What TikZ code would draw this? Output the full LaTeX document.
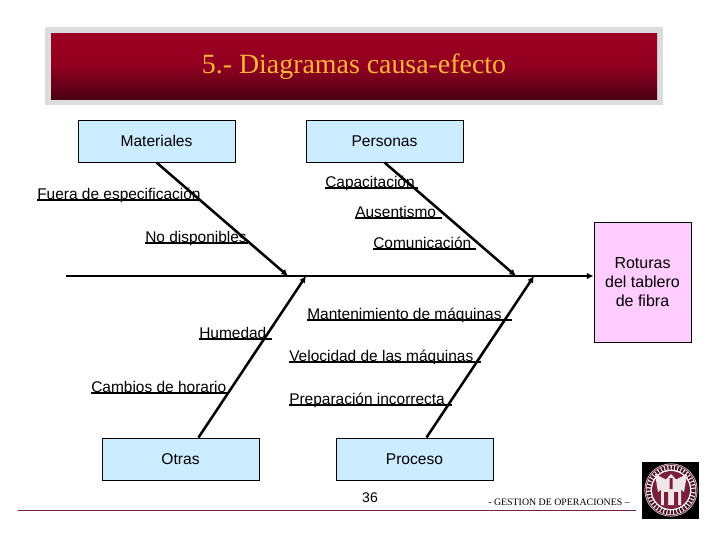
\documentclass[tikz,border=0pt]{standalone}
\usepackage{fontspec}
\setmainfont{Liberation Sans}
\newfontfamily\serifface{Liberation Serif}
\usetikzlibrary{arrows.meta}
\definecolor{boxblue}{HTML}{CCECFF}
\definecolor{boxpink}{HTML}{FFCCFF}
\definecolor{titletop}{HTML}{9E0022}
\definecolor{titlebot}{HTML}{4A0014}
\definecolor{titletxt}{HTML}{FFB43C}
\definecolor{framegray}{HTML}{DDDDDD}
\definecolor{footline}{HTML}{7A1F3A}
\tikzset{
  cat/.style={draw=black,line width=0.75pt,fill=boxblue,minimum width=117.75pt,minimum height=31.5pt,inner sep=0pt,font=\fontsize{11.7}{14}\selectfont},
  bone/.style={line width=1.9pt,-{Latex[length=5pt,width=5pt]}},
  twig/.style={line width=1.3pt},
  lab/.style={anchor=south west,inner sep=0pt,font=\fontsize{11.6}{14}\selectfont,text depth=0pt}
}
\begin{document}
\begin{tikzpicture}[x=0.75pt,y=-0.75pt]
\useasboundingbox (0,0) rectangle (720,540);
\fill[framegray] (45,27) rectangle (663,105);
\node[draw=none,top color=titletop,bottom color=titlebot,middle color=titletop!85!titlebot,shading angle=0,minimum width=454.5pt,minimum height=49.5pt,inner sep=0pt] (title) at (354,66) {};
\node[text=titletxt,font=\serifface\fontsize{20.9}{24}\selectfont] (ttxt) at (354,67) {5.- Diagramas causa-efecto};
\node[cat] (mat) at (156.5,141) {Materiales};
\node[cat] (per) at (384.5,141) {Personas};
\node[cat] (otr) at (180.5,459) {Otras};
\node[cat] (pro) at (414.5,459) {Proceso};
\node[draw=black,line width=0.75pt,fill=boxpink,minimum width=72.75pt,minimum height=90pt,inner sep=0pt,align=center,font=\fontsize{12}{14.4}\selectfont] (eff) at (642.5,282) {Roturas\\del tablero\\de fibra};
\coordinate (sp0) at (66,276);
\coordinate (m1) at (288,276);
\coordinate (p1) at (516,276);
\coordinate (o1) at (306,276);
\coordinate (r1) at (534,276);
\draw[bone] (sp0) -- (sp0 -| eff.west);
\draw[bone] (mat.south) -- (m1);
\draw[bone] (per.south) -- (p1);
\draw[bone] (otr.north) ++(18,0) coordinate (otop) (otop) -- (o1);
\draw[bone] (pro.north) ++(12,0) coordinate (ptop) (ptop) -- (r1);
\foreach \n/\xa/\xb/\yy/\t in {
 a/37/200/200/Fuera de especificación,
 b/145/248/243/No disponibles,
 c/325/418/188/Capacitación,
 d/355/442/218/Ausentismo,
 e/373/476/249/Comunicación,
 f/307/512/320/Mantenimiento de máquinas,
 g/289/481/362/Velocidad de las máquinas,
 h/289/452/405/Preparación incorrecta,
 i/199/272/339/Humedad,
 j/91/228/393/Cambios de horario}{
  \coordinate (\n0) at (\xa,\yy);
  \coordinate (\n1) at (\xb,\yy);
  \draw[twig] (\n0) -- (\n1);
  \node[lab] (\n t) at (\xa,\yy-0.5) {\t};
}
\node[font=\fontsize{10.5}{12}\selectfont] (page) at (370,498) {36};
\node[font=\serifface\fontsize{7.4}{9}\selectfont] (foot) at (559,502) {- GESTION DE OPERACIONES –};
\coordinate (fl0) at (18,510); \coordinate (fl1) at (636,510);
\draw[footline,line width=0.75pt] (fl0) -- (fl1);
% logo
\fill[black] (642,462) rectangle (699,519);
\fill[white] (671,490) circle (26.5);
\draw[footline!70!gray,line width=0.75pt] (671,490) circle (25.5);
\draw[footline!60!black,line width=3pt,dash pattern=on 1.6pt off 0.9pt] (671,490) circle (22.5);
\fill[footline] (671,490) circle (19);
\fill[white!88!footline] (661,505) rectangle (681,487) (671,474) -- (683,487) -- (659,487) -- cycle;
\fill[white!88!footline] (671,482) -- (655,474) -- (658,492) -- cycle (671,482) -- (687,474) -- (684,492) -- cycle;
\fill[footline] (664,505) rectangle (668,492) (674,505) rectangle (678,492) (669.5,489) rectangle (672.5,478);
\end{tikzpicture}
\end{document}
